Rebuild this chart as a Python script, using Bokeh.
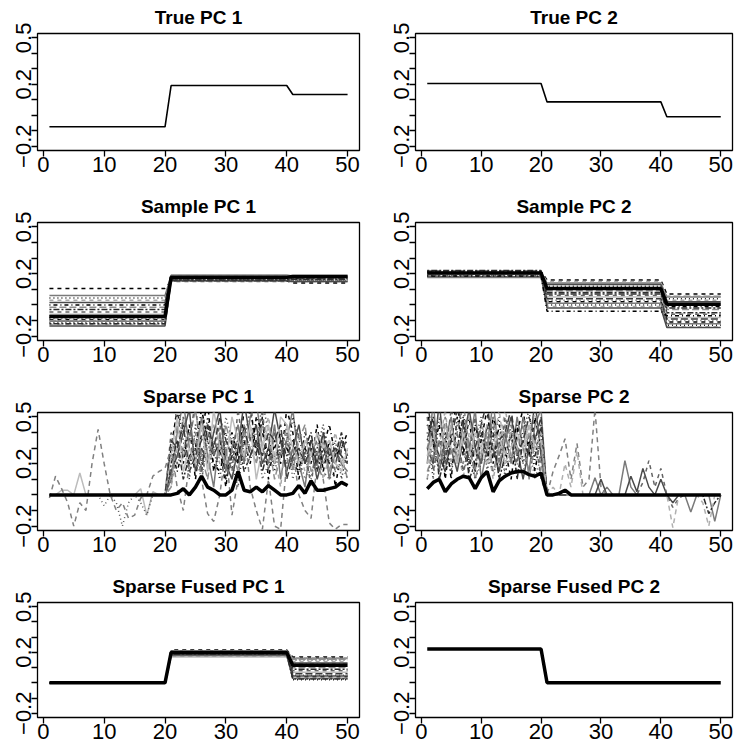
from bokeh.plotting import figure
from bokeh.layouts import column, row
from bokeh.models import Range1d, FixedTicker
from bokeh.embed import file_html
from bokeh.resources import INLINE

# ---------------- data ----------------
X = list(range(1, 51))
X_TICKS = [0, 10, 20, 30, 40, 50]
Y_MAJOR = [-0.2, 0.2, 0.5]
Y_MINOR = [-0.1, 0.0, 0.1, 0.3, 0.4]
TITLES = ["True PC 1", "True PC 2", "Sample PC 1", "Sample PC 2",
          "Sparse PC 1", "Sparse PC 2", "Sparse Fused PC 1", "Sparse Fused PC 2"]


def steps(a, b, c):
    # piecewise-constant loading: variables 1-20, 21-40, 41-50
    return [a] * 20 + [b] * 20 + [c] * 10


# True PCs (segment levels)
TRUE1 = (-0.075, 0.192, 0.134)
TRUE2 = (0.205, 0.086, -0.010)

# Sample PC 1 replicates (segment levels)
S1_SEG1 = [0.105, 0.06, 0.045, 0.03, 0.015, 0.0, -0.015, -0.03, -0.045, -0.06,
           -0.07, -0.085, -0.095, -0.105, -0.115, -0.125, -0.135, -0.08, -0.1, -0.12]
S1_SEG2 = [0.155, 0.185, 0.17, 0.16, 0.19, 0.175, 0.165, 0.18, 0.15, 0.185,
           0.17, 0.16, 0.18, 0.175, 0.165, 0.19, 0.155, 0.17, 0.18, 0.16]
S1_SEG3 = [0.14, 0.18, 0.175, 0.165, 0.185, 0.17, 0.16, 0.18, 0.15, 0.19,
           0.17, 0.155, 0.18, 0.175, 0.16, 0.185, 0.15, 0.175, 0.18, 0.165]
S1_MEAN = (-0.075, 0.178, 0.182)

# Sample PC 2 replicates (segment levels)
S2_SEG1 = [0.215, 0.2, 0.19, 0.21, 0.18, 0.205, 0.195, 0.22, 0.185, 0.2,
           0.21, 0.19, 0.2, 0.175, 0.215, 0.195, 0.205, 0.185, 0.2, 0.21]
S2_SEG2 = [0.16, 0.14, 0.12, 0.15, 0.13, 0.1, 0.09, 0.08, 0.06, 0.05,
           0.04, 0.03, 0.02, 0.01, 0.0, -0.01, -0.02, -0.04, 0.11, 0.07]
S2_SEG3 = [0.07, 0.05, 0.04, 0.03, 0.02, -0.01, -0.03, -0.05, -0.06, -0.08,
           -0.09, -0.1, -0.11, -0.12, -0.13, -0.14, -0.145, -0.07, 0.055, -0.02]
S2_MEAN = (0.205, 0.105, 0.005)

# Sparse PC 1 replicates
SP1_A = [-0.02, 0.12, 0.04, -0.05, -0.2, -0.05, -0.1, 0.2, 0.42, 0.2,
         0.0, -0.1, -0.05, -0.15, -0.13, -0.02, 0.0, 0.12, 0.15, 0.17,
         0.3, 0.05, -0.1, 0.2, 0.4, 0.1, -0.12, -0.17, 0.0, 0.3,
         -0.13, 0.1, 0.45, 0.05, -0.1, -0.22, 0.1, -0.2, -0.22, 0.2,
         0.3, 0.0, -0.1, -0.15, 0.2, 0.1, -0.18, -0.22, -0.19, -0.19]
SP1_HEAD_B = [0, 0, 0.03, 0.03, 0, 0.14, 0, 0, 0, 0, 0, 0, 0, 0, 0, 0.04, -0.13, 0.02, 0, 0]
SP1_HEAD_C = [0, 0, 0, 0, 0, 0, 0, 0, 0, -0.07, 0, -0.05, -0.2, -0.05, 0, -0.05, -0.13, 0, 0, 0]
SP1_HEAD_0 = [0] * 20
SP1_TAILS = [
    [0.3, 0.55, 0.2, 0.45, 0.1, 0.4, 0.6, 0.15, 0.3, 0.05, 0.35, 0.2, 0.55, 0.6, 0.25,
     0.5, 0.1, 0.35, 0.2, 0.55, 0.4, 0.1, 0.3, 0.2, 0.45, 0.15, 0.35, 0.05, 0.3, 0.4],
    [0.1, 0.4, 0.6, 0.3, 0.2, 0.5, 0.25, 0.05, 0.4, 0.15, 0.3, 0.45, 0.2, 0.5, 0.6,
     0.3, 0.2, 0.45, 0.1, 0.35, 0.55, 0.2, 0.05, 0.35, 0.25, 0.4, 0.1, 0.3, 0.2, 0.15],
    [0.2, 0.6, 0.35, 0.1, 0.45, 0.2, 0.5, 0.3, 0.1, 0.4, 0.2, 0.05, 0.35, 0.55, 0.3,
     0.6, 0.4, 0.15, 0.3, 0.2, 0.5, 0.35, 0.25, 0.1, 0.3, 0.45, 0.2, 0.35, 0.1, 0.3],
    [0.05, 0.3, 0.5, 0.2, 0.35, 0.1, 0.3, 0.45, 0.2, 0.25, 0.1, 0.4, 0.3, 0.45, 0.2,
     0.35, 0.5, 0.25, 0.05, 0.4, 0.2, 0.3, 0.15, 0.25, 0.35, 0.1, 0.25, 0.4, 0.2, 0.3],
    [0.15, 0.25, 0.4, 0.55, 0.15, 0.3, 0.2, 0.4, 0.55, 0.2, 0.1, 0.3, 0.6, 0.35, 0.45,
     0.2, 0.3, 0.55, 0.35, 0.15, 0.3, 0.45, 0.2, 0.3, 0.1, 0.25, 0.3, 0.2, 0.35, 0.25],
    [0.3, 0.15, 0.3, 0.2, 0.3, 0.55, 0.35, 0.2, 0.15, 0.3, 0.4, 0.25, 0.35, 0.2, 0.5,
     0.4, 0.25, 0.3, 0.4, 0.3, 0.2, 0.15, 0.4, 0.3, 0.2, 0.3, 0.45, 0.25, 0.3, 0.35],
    [0.05, 0.45, 0.25, 0.35, 0.55, 0.25, 0.1, 0.35, 0.25, 0.45, 0.3, 0.15, 0.4, 0.3, 0.2,
     0.45, 0.35, 0.1, 0.25, 0.45, 0.15, 0.35, 0.45, 0.15, 0.2, 0.35, 0.15, 0.3, 0.25, 0.1],
    [0.2, 0.35, 0.1, 0.25, 0.3, 0.15, 0.45, 0.25, 0.35, 0.1, 0.25, 0.35, 0.15, 0.25, 0.35,
     0.15, 0.3, 0.2, 0.35, 0.25, 0.35, 0.25, 0.3, 0.4, 0.15, 0.3, 0.2, 0.25, 0.4, 0.2],
    [0.4, 0.2, 0.5, 0.35, 0.6, 0.15, 0.4, 0.25, 0.45, 0.3, 0.15, 0.55, 0.25, 0.4, 0.3,
     0.55, 0.15, 0.4, 0.25, 0.35, 0.2, 0.4, 0.3, 0.05, 0.4, 0.2, 0.3, 0.15, 0.3, 0.35],
    [0.25, 0.5, 0.15, 0.3, 0.2, 0.45, 0.15, 0.55, 0.3, 0.2, 0.5, 0.35, 0.25, 0.45, 0.1,
     0.3, 0.45, 0.2, 0.5, 0.45, 0.3, 0.2, 0.35, 0.25, 0.4, 0.3, 0.35, 0.2, 0.15, 0.3],
    [0.35, 0.3, 0.45, 0.15, 0.25, 0.35, 0.45, 0.3, 0.5, 0.35, 0.25, 0.2, 0.45, 0.25, 0.35,
     0.25, 0.4, 0.35, 0.45, 0.1, 0.25, 0.3, 0.2, 0.35, 0.2, 0.4, 0.25, 0.3, 0.25, 0.2],
    [0.1, 0.2, 0.3, 0.4, 0.25, 0.1, 0.35, 0.15, 0.25, 0.5, 0.35, 0.3, 0.2, 0.35, 0.4,
     0.1, 0.2, 0.25, 0.3, 0.4, 0.1, 0.25, 0.1, 0.2, 0.3, 0.15, 0.1, 0.15, 0.2, 0.1],
]
SP1_MEAN = [0] * 20 + [0, 0.01, 0.04, 0, 0.05, 0.12, 0.05, 0.03, 0, 0,
                       0.03, 0.15, 0.03, 0.02, 0.05, 0.02, 0.06, 0.03, 0, 0,
                       0.01, 0.06, 0.01, 0.09, 0.03, 0.03, 0.04, 0.05, 0.08, 0.06]

# Sparse PC 2 replicates
SP2_HEADS = [
    [0.55, 0.3, 0.45, 0.1, 0.4, 0.6, 0.25, 0.5, 0.15, 0.35, 0.55, 0.2, 0.45, 0.3, 0.1, 0.4, 0.55, 0.25, 0.5, 0.3],
    [0.2, 0.6, 0.15, 0.35, 0.5, 0.2, 0.45, 0.3, 0.55, 0.1, 0.3, 0.6, 0.25, 0.4, 0.2, 0.5, 0.3, 0.15, 0.45, 0.55],
    [0.4, 0.1, 0.5, 0.3, 0.15, 0.45, 0.55, 0.2, 0.35, 0.5, 0.15, 0.35, 0.5, 0.1, 0.45, 0.25, 0.4, 0.55, 0.2, 0.35],
    [0.1, 0.45, 0.3, 0.55, 0.2, 0.35, 0.1, 0.4, 0.25, 0.45, 0.35, 0.1, 0.3, 0.55, 0.35, 0.15, 0.25, 0.4, 0.3, 0.15],
    [0.3, 0.2, 0.6, 0.2, 0.3, 0.15, 0.35, 0.55, 0.3, 0.2, 0.45, 0.3, 0.15, 0.35, 0.5, 0.3, 0.1, 0.3, 0.6, 0.25],
    [0.45, 0.35, 0.2, 0.4, 0.1, 0.5, 0.3, 0.15, 0.45, 0.3, 0.2, 0.5, 0.35, 0.2, 0.3, 0.45, 0.2, 0.35, 0.15, 0.4],
    [0.15, 0.25, 0.35, 0.15, 0.45, 0.25, 0.2, 0.35, 0.1, 0.25, 0.4, 0.15, 0.3, 0.45, 0.25, 0.35, 0.45, 0.1, 0.35, 0.2],
    [0.35, 0.5, 0.1, 0.25, 0.35, 0.3, 0.5, 0.1, 0.2, 0.4, 0.25, 0.4, 0.1, 0.25, 0.4, 0.1, 0.35, 0.25, 0.25, 0.45],
    [0.5, 0.15, 0.35, 0.25, 0.55, 0.4, 0.15, 0.3, 0.5, 0.2, 0.35, 0.45, 0.2, 0.5, 0.35, 0.2, 0.5, 0.3, 0.4, 0.1],
    [0.25, 0.4, 0.2, 0.45, 0.3, 0.2, 0.4, 0.25, 0.4, 0.3, 0.2, 0.3, 0.4, 0.2, 0.3, 0.4, 0.3, 0.45, 0.3, 0.35],
    [0.6, 0.35, 0.25, 0.15, 0.35, 0.55, 0.45, 0.2, 0.3, 0.45, 0.6, 0.25, 0.35, 0.4, 0.55, 0.25, 0.35, 0.5, 0.35, 0.5],
    [0.1, 0.3, 0.15, 0.3, 0.2, 0.3, 0.15, 0.25, 0.1, 0.2, 0.25, 0.15, 0.2, 0.15, 0.25, 0.2, 0.15, 0.3, 0.1, 0.25],
]
SP2_TAILS = [
    [0] * 30,
    [0] * 8 + [0.11, 0, 0.05, 0, 0, 0.22, 0.05] + [0] * 9 + [-0.11, 0, 0, 0, -0.17, 0],
    [0] * 30,
    [0] * 30,
    [0] * 9 + [0.1, 0, 0, 0, 0, 0.12, 0.02, 0.17, 0.05, 0, 0.1, 0, -0.05] + [0] * 8,
    [0] * 30,
    [0] * 30,
    [0] * 26 + [0, -0.12, -0.05, 0],
    [0] * 15 + [0, 0.08, 0.22, 0.05, 0.17, 0, -0.08, -0.02] + [0] * 7,
    [0] * 30,
    [0] * 30,
    [0] * 30,
]
SP2_HEAD_D = [0.3, 0.45, 0.2, 0.5, 0.25, 0.4, 0.6, 0.3, 0.15, 0.45, 0.3, 0.5, 0.2, 0.35, 0.45, 0.25, 0.5, 0.35, 0.55, 0.3]
SP2_TAIL_D = [0, 0.15, 0.25, 0.36, 0.1, 0.33, 0.05, 0.1, 0.55, 0.05] + [0] * 20
SP2_HEAD_E = [0.2, 0.35, 0.5, 0.3, 0.45, 0.2, 0.35, 0.5, 0.25, 0.3, 0.45, 0.3, 0.55, 0.25, 0.4, 0.3, 0.2, 0.45, 0.3, 0.4]
SP2_TAIL_E = [0, 0.05, 0, 0.2, 0.05, 0.28] + [0] * 14 + [0, -0.21, 0, 0, 0, 0, -0.05, -0.2, 0, 0]
SP2_MEAN = [0.04, 0.08, 0.1, 0.02, 0.07, 0.1, 0.12, 0.11, 0.04, 0.11,
            0.15, 0.02, 0.09, 0.12, 0.14, 0.15, 0.15, 0.13, 0.12, 0.14,
            0, 0, 0.01, 0.03, 0] + [0] * 25

# Sparse fused PC 1 replicates (segment levels)
F1_SEG1 = [0.0] * 20
F1_SEG2 = [0.215, 0.21, 0.205, 0.2, 0.195, 0.19, 0.185, 0.18, 0.175, 0.17,
           0.21, 0.2, 0.19, 0.18, 0.205, 0.195, 0.185, 0.2, 0.21, 0.19]
F1_SEG3 = [0.17, 0.16, 0.15, 0.14, 0.13, 0.12, 0.1, 0.09, 0.08, 0.07,
           0.06, 0.05, 0.04, 0.03, 0.02, 0.165, 0.045, 0.11, 0.155, 0.025]
F1_MEAN = (0.0, 0.2, 0.115)
F2_MEAN = (0.222, 0.0, 0.0)

# ---------------- styling ----------------
STYLES = [("#000000", "4 4"), ("#7a7a7a", "solid"), ("#1e1e1e", "1 3"),
          ("#a8a8a8", "4 4"), ("#4a4a4a", "solid"), ("#000000", "1 3 4 3"),
          ("#8e8e8e", "7 3"), ("#2c2c2c", "2 2 6 2"), ("#646464", "4 4"),
          ("#bcbcbc", "solid"), ("#3a3a3a", "7 3"), ("#565656", "1 3")]
OUTLIER = ("#808080", "5 4")
OUTLIER_LIGHT = ("#b0b0b0", "5 4")
FONT = "Liberation Sans"


def make_fig(title, w, h, bl, br, bt, bb):
    p = figure(width=w, height=h, x_range=Range1d(-0.96, 51.96),
               y_range=Range1d(-0.228, 0.528), output_backend="svg",
               toolbar_location=None, min_border_left=bl, min_border_right=br,
               min_border_top=bt, min_border_bottom=bb, title=title)
    p.title.align = "center"
    p.title.vertical_align = "top"
    p.title.text_font = FONT
    p.title.text_font_size = "19px"
    p.title.text_font_style = "bold"
    p.title.text_color = "black"
    p.title.standoff = 8
    p.grid.visible = False
    p.outline_line_color = "black"
    p.outline_line_width = 1.3
    p.outline_line_alpha = 1
    p.background_fill_color = "white"
    p.border_fill_color = "white"
    p.xaxis.ticker = FixedTicker(ticks=X_TICKS)
    p.yaxis.ticker = FixedTicker(ticks=Y_MAJOR, minor_ticks=Y_MINOR)
    for ax in (p.xaxis, p.yaxis):
        ax.axis_line_color = None
        ax.major_tick_line_color = "black"
        ax.major_tick_line_width = 1.3
        ax.major_tick_out = 6
        ax.major_tick_in = 0
        ax.major_label_text_font = FONT
        ax.major_label_text_font_size = "22px"
        ax.major_label_text_color = "black"
        ax.major_label_standoff = 0
    p.xaxis.minor_tick_line_color = None
    p.yaxis.minor_tick_line_color = "black"
    p.yaxis.minor_tick_line_width = 1.3
    p.yaxis.minor_tick_out = 6
    p.yaxis.minor_tick_in = 0
    p.yaxis.major_label_orientation = "vertical"
    return p


def draw_reps(p, series):
    for i, ys in enumerate(series):
        c, d = STYLES[i % len(STYLES)]
        p.line(X, ys, line_color=c, line_dash=d, line_width=1.5)


def draw_one(p, ys, style):
    p.line(X, ys, line_color=style[0], line_dash=style[1], line_width=1.5)


def thick(p, ys):
    p.line(X, ys, line_color="black", line_width=3.5)


W0, W1 = 377, 364
BL0, BR0 = 37, 18
BL1, BR1 = 38, 9
HROW = [190, 190, 190, 180]
BTOP = [33, 32, 32, 32]
FH = [117, 118, 118, 115]
figs = []
for r in range(4):
    h = HROW[r]
    bb = h - BTOP[r] - FH[r]
    p0 = make_fig(TITLES[2 * r], W0, h, BL0, BR0, BTOP[r], bb)
    p1 = make_fig(TITLES[2 * r + 1], W1, h, BL1, BR1, BTOP[r], bb)
    figs.append((p0, p1))

# True PCs
figs[0][0].line(X, steps(*TRUE1), line_color="black", line_width=1.6)
figs[0][1].line(X, steps(*TRUE2), line_color="black", line_width=1.6)

# Sample PCs
draw_reps(figs[1][0], [steps(a, b, c) for a, b, c in zip(S1_SEG1, S1_SEG2, S1_SEG3)])
thick(figs[1][0], steps(*S1_MEAN))
draw_reps(figs[1][1], [steps(a, b, c) for a, b, c in zip(S2_SEG1, S2_SEG2, S2_SEG3)])
thick(figs[1][1], steps(*S2_MEAN))

# Sparse PCs
sp1_heads = [SP1_HEAD_0, SP1_HEAD_0, SP1_HEAD_0, SP1_HEAD_0, SP1_HEAD_0, SP1_HEAD_0,
             SP1_HEAD_0, SP1_HEAD_0, SP1_HEAD_0, SP1_HEAD_B, SP1_HEAD_0, SP1_HEAD_C]
sp1 = [h + t for h, t in zip(sp1_heads, SP1_TAILS)]
draw_reps(figs[2][0], sp1)
draw_one(figs[2][0], SP1_A, OUTLIER)
thick(figs[2][0], SP1_MEAN)
sp2 = [h + t for h, t in zip(SP2_HEADS, SP2_TAILS)]
draw_reps(figs[2][1], sp2)
draw_one(figs[2][1], SP2_HEAD_D + SP2_TAIL_D, OUTLIER)
draw_one(figs[2][1], SP2_HEAD_E + SP2_TAIL_E, OUTLIER_LIGHT)
thick(figs[2][1], SP2_MEAN)

# Sparse fused PCs
draw_reps(figs[3][0], [steps(a, b, c) for a, b, c in zip(F1_SEG1, F1_SEG2, F1_SEG3)])
thick(figs[3][0], steps(*F1_MEAN))
thick(figs[3][1], steps(*F2_MEAN))

layout = column(*[row(a, b) for a, b in figs])
open("out.html", "w").write(file_html(layout, INLINE))
